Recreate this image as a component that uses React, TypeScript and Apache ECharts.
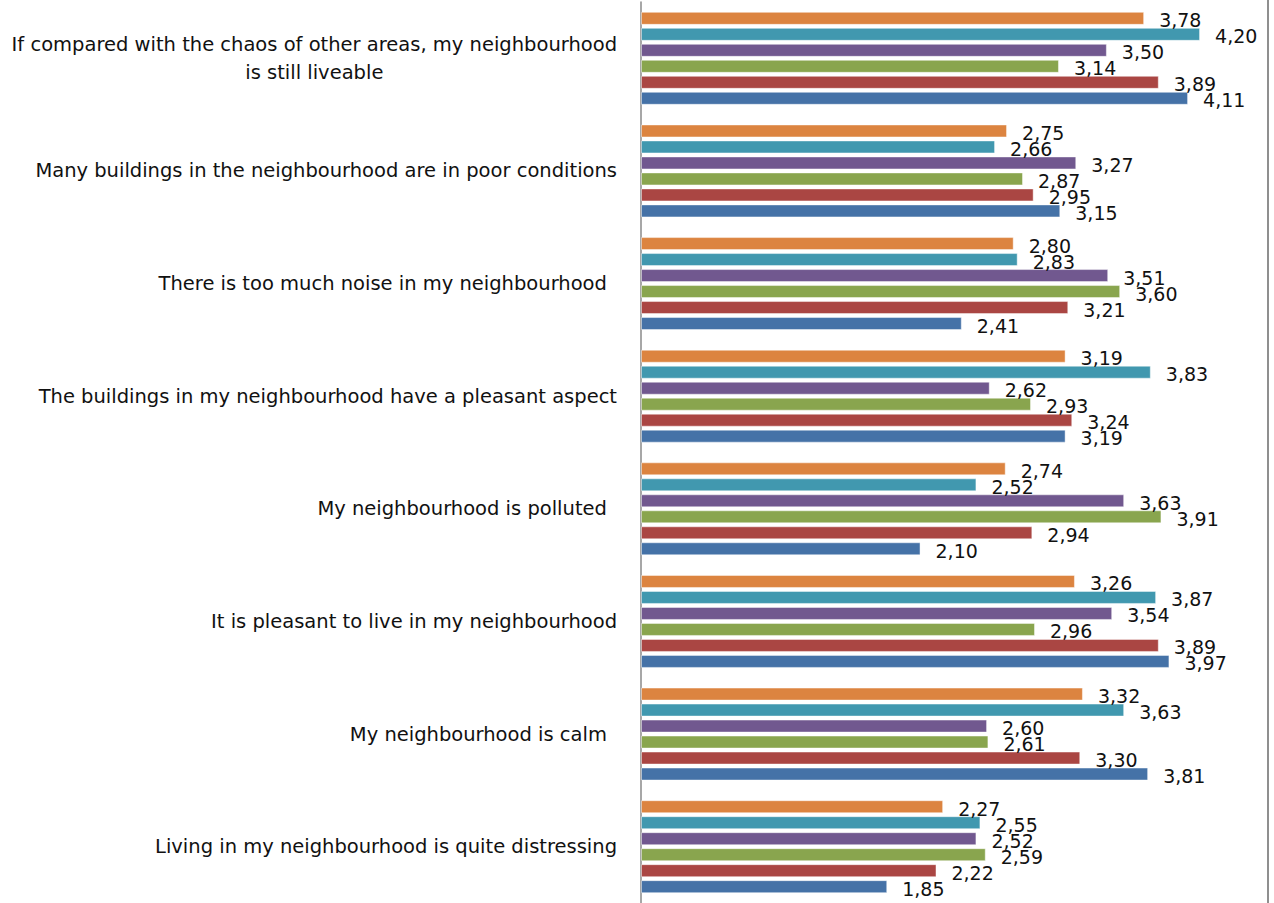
import React, { useEffect, useRef } from "react";
import * as echarts from "echarts";

// Statements, listed top to bottom as they appear on the chart
const categories = [
  "If compared with the chaos of other areas, my neighbourhood is still liveable",
  "Many buildings in the neighbourhood are in poor conditions",
  "There is too much noise in my neighbourhood ",
  "The buildings in my neighbourhood have a pleasant aspect",
  "My neighbourhood is polluted ",
  "It is pleasant to live in my neighbourhood",
  "My neighbourhood is calm ",
  "Living in my neighbourhood is quite distressing",
];

// Mean scores per group (one array per bar colour, top bar to bottom bar in each cluster)
const groupF = [3.78, 2.75, 2.8, 3.19, 2.74, 3.26, 3.32, 2.27];
const groupE = [4.2, 2.66, 2.83, 3.83, 2.52, 3.87, 3.63, 2.55];
const groupD = [3.5, 3.27, 3.51, 2.62, 3.63, 3.54, 2.6, 2.52];
const groupC = [3.14, 2.87, 3.6, 2.93, 3.91, 2.96, 2.61, 2.59];
const groupB = [3.89, 2.95, 3.21, 3.24, 2.94, 3.89, 3.3, 2.22];
const groupA = [4.11, 3.15, 2.41, 3.19, 2.1, 3.97, 3.81, 1.85];

const seriesNames = ["F", "E", "D", "C", "B", "A"];
const seriesValues = [groupF, groupE, groupD, groupC, groupB, groupA];
const seriesColors = ["#DC8440", "#4198AF", "#71588F", "#89A54E", "#AA4643", "#4572A7"];

const LABEL_FONT = "'DejaVu Sans', sans-serif";
const VALUE_FONT = "'DejaVu Sans', sans-serif";

// Word-wrap long statements into lines of at most maxChars characters
function wrap(text: string, maxChars: number): string[] {
  const words = text.split(" ");
  const lines: string[] = [];
  let cur = "";
  for (const w of words) {
    const next = cur ? cur + " " + w : w;
    if (next.length > maxChars && cur) {
      lines.push(cur);
      cur = w;
    } else {
      cur = next;
    }
  }
  if (cur || text.endsWith(" ")) lines.push(text.endsWith(" ") ? cur + " " : cur);
  return lines;
}

export default function App() {
  const ref = useRef<HTMLDivElement>(null);

  useEffect(() => {
    if (!ref.current) return;
    const chart = echarts.init(ref.current, undefined, { renderer: "svg" });

    const series = seriesValues.map((vals, i) => ({
      name: seriesNames[i],
      type: "bar" as const,
      data: vals,
      barWidth: 13,
      barGap: "23%",
      itemStyle: {
        color: seriesColors[i],
        borderColor: "rgba(255,255,255,0.45)",
        borderWidth: 1,
      },
      label: {
        show: true,
        position: "right" as const,
        distance: 15,
        offset: [0, 2],
        color: "#111",
        fontFamily: VALUE_FONT,
        fontSize: 19,
        formatter: (p: any) => Number(p.value).toFixed(2).replace(".", ","),
      },
    }));

    chart.setOption({
      animation: false,
      backgroundColor: "#ffffff",
      grid: { left: 641, top: 2, height: 904, width: 625.6, containLabel: false },
      xAxis: {
        type: "value",
        min: 0,
        max: 4.7,
        show: false,
      },
      yAxis: {
        type: "category",
        inverse: true,
        data: categories,
        axisLine: { show: true, lineStyle: { color: "#8a8a8a", width: 1.5 } },
        axisTick: { show: false },
        splitLine: { show: false },
        axisLabel: {
          margin: 24,
          color: "#111",
          fontFamily: LABEL_FONT,
          fontSize: 19.5,
          formatter: (v: string) =>
            wrap(v, 60)
              // keep a trailing space visible (SVG would otherwise collapse it)
              .map((l) => `{c|${l.replace(/ $/, "\u2009")}}`)
              .join("\n"),
          rich: {
            c: {
              align: "center",
              fontFamily: LABEL_FONT,
              fontSize: 19.5,
              lineHeight: 28,
              color: "#111",
            },
          },
        },
      },
      graphic: [
        {
          type: "line",
          shape: { x1: 1268, y1: 0, x2: 1268, y2: 903 },
          style: { stroke: "#8f8f8f", lineWidth: 2 },
          silent: true,
        },
      ],
      series,
    });

    return () => chart.dispose();
  }, []);

  return (
    <div
      ref={ref}
      style={{ position: "fixed", left: 0, top: 0, width: 1274, height: 903, background: "#fff" }}
    />
  );
}
